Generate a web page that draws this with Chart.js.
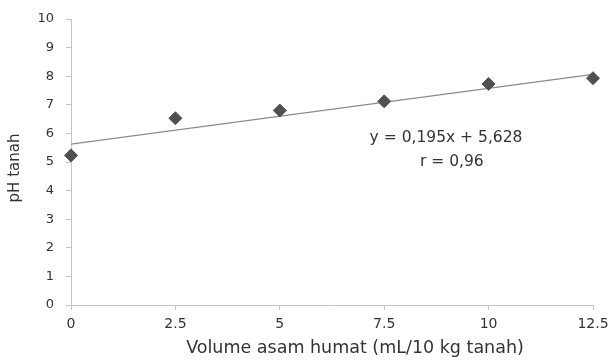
<!DOCTYPE html>
<html><head><meta charset="utf-8">
<script src="https://cdn.jsdelivr.net/npm/chart.js@4/dist/chart.umd.min.js"></script>
<style>html,body{margin:0;padding:0;background:#fff}#wrap{width:612px;height:360px}</style>
</head><body><div id="wrap"><canvas id="c" width="612" height="360"></canvas></div>
<script>
const volumes = [0, 2.5, 5, 7.5, 10, 12.5];
const phValues = [5.23, 6.53, 6.8, 7.12, 7.73, 7.93];
const slope = 0.195, intercept = 5.628;
const trendX = [0, 12.5];
const xTicks = [0, 2.5, 5, 7.5, 10, 12.5];
const yTicks = [0,1,2,3,4,5,6,7,8,9,10];
const eqLines = ['y = 0,195x + 5,628', 'r = 0,96'];
const xTitle = 'Volume asam humat (mL/10 kg tanah)';
const yTitle = 'pH tanah';

// text anchor positions (in data units)
const eqAnchors = [{x: 8.98, y: 5.84}, {x: 9.12, y: 5.0}];
const FONT = '"DejaVu Sans", sans-serif';

const annot = {
  id: 'annot',
  afterDatasetsDraw(chart) {
    const {ctx, scales, chartArea} = chart;
    ctx.save();
    ctx.fillStyle = '#333';
    ctx.textAlign = 'center';
    ctx.textBaseline = 'middle';
    ctx.font = '15.5px ' + FONT;
    eqLines.forEach((t, i) => {
      ctx.fillText(t, scales.x.getPixelForValue(eqAnchors[i].x), scales.y.getPixelForValue(eqAnchors[i].y));
    });
    // axis titles
    ctx.font = '17.5px ' + FONT;
    ctx.fillText(xTitle, (chartArea.left + chartArea.right) / 2 + 23, chartArea.bottom + 43);
    ctx.translate(15, (chartArea.top + chartArea.bottom) / 2 + 6);
    ctx.rotate(-Math.PI / 2);
    ctx.font = '15px ' + FONT;
    ctx.fillText(yTitle, 0, 0);
    ctx.restore();
  }
};

new Chart(document.getElementById('c'), {
  type: 'scatter',
  data: {
    datasets: [
      {
        data: volumes.map((v, i) => ({x: v, y: phValues[i]})),
        pointStyle: 'rectRot', radius: 6.5, hoverRadius: 6.5,
        backgroundColor: '#505050', borderColor: '#505050', borderWidth: 1,
        clip: false, order: 0
      },
      {
        type: 'line',
        data: trendX.map(v => ({x: v, y: slope * v + intercept})),
        borderColor: '#8a8a8a', borderWidth: 1.3, pointRadius: 0, fill: false, order: 1
      }
    ]
  },
  plugins: [annot],
  options: {
    responsive: false, animation: false,
    layout: {padding: {left: 0, right: 19, top: 19, bottom: 0}},
    plugins: {legend: {display: false}, tooltip: {enabled: false}},
    scales: {
      x: {
        type: 'linear', min: 0, max: 12.5,
        afterBuildTicks: s => { s.ticks = xTicks.map(v => ({value: v})); },
        afterFit: s => { s.height = 55; s.paddingRight = 0; s.paddingLeft = 0; },
        ticks: {color: '#333', font: {family: FONT, size: 14}, padding: 6, maxRotation: 0,
          callback: v => String(v)},
        grid: {display: true, drawOnChartArea: false, drawTicks: true, tickLength: 5, color: '#c4c4c4'},
        border: {color: '#c4c4c4'}
      },
      y: {
        type: 'linear', min: 0, max: 10,
        afterBuildTicks: s => { s.ticks = yTicks.map(v => ({value: v})); },
        afterFit: s => { s.width = 71; s.paddingTop = 0; s.paddingBottom = 0; },
        ticks: {color: '#333', font: {family: FONT, size: 13}, padding: 12},
        grid: {display: true, drawOnChartArea: false, drawTicks: true, tickLength: 5, color: '#c4c4c4'},
        border: {color: '#c4c4c4'}
      }
    }
  }
});
</script></body></html>
